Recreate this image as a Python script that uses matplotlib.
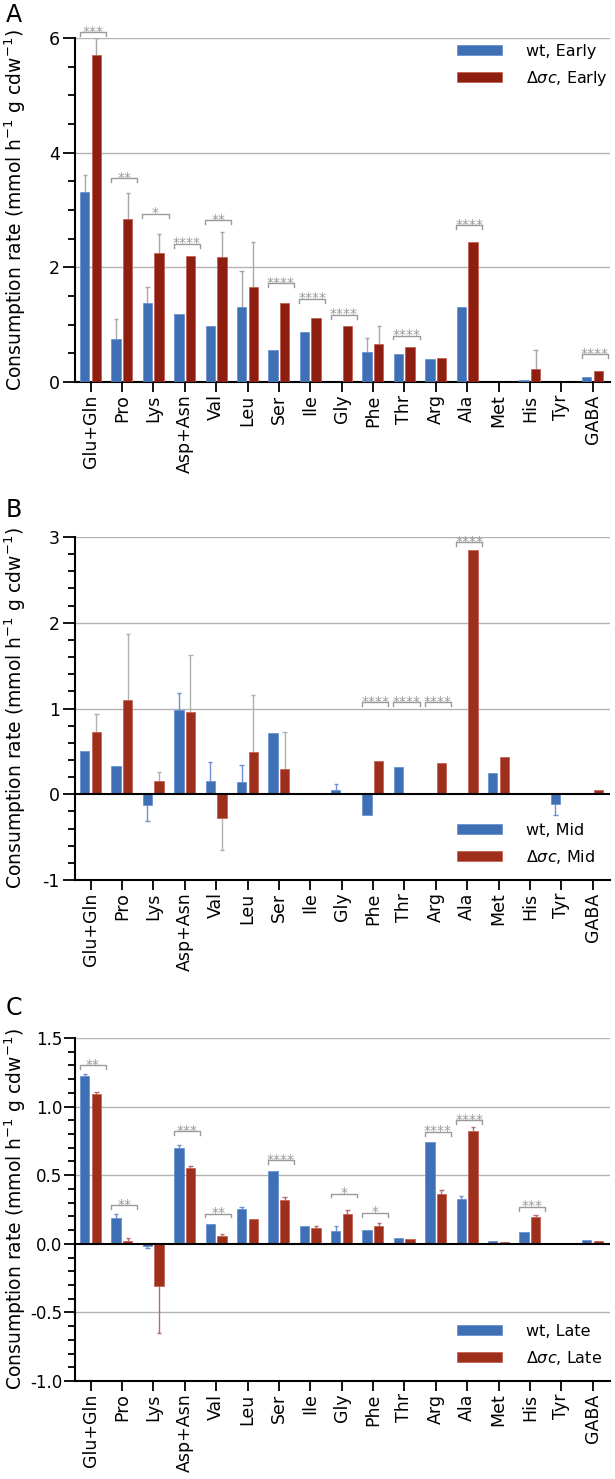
import matplotlib
matplotlib.use("Agg")
import matplotlib.pyplot as plt
import numpy as np
from matplotlib.ticker import MultipleLocator, FormatStrFormatter

plt.rcParams['font.family'] = ['DejaVu Sans']
plt.rcParams['axes.unicode_minus'] = False

# ---------------- data ----------------
categories = ["Glu+Gln", "Pro", "Lys", "Asp+Asn", "Val", "Leu", "Ser", "Ile", "Gly",
              "Phe", "Thr", "Arg", "Ala", "Met", "His", "Tyr", "GABA"]

early_wt = [3.32, 0.75, 1.37, 1.19, 0.98, 1.31, 0.55, 0.88, 0.0, 0.52, 0.48, 0.40, 1.30, 0.0, 0.03, 0.0, 0.09]
early_wt_err = [0.29, 0.35, 0.28, 0, 0, 0.62, 0, 0, 0, 0.25, 0, 0, 0, 0, 0, 0, 0]
early_dsc = [5.71, 2.84, 2.25, 2.19, 2.18, 1.66, 1.38, 1.11, 0.97, 0.66, 0.61, 0.42, 2.44, 0.0, 0.23, 0.0, 0.19]
early_dsc_err = [0.29, 0.45, 0.34, 0, 0.43, 0.78, 0, 0, 0, 0.31, 0, 0, 0, 0, 0.33, 0, 0]
early_sig_idx = [0, 1, 2, 3, 4, 6, 7, 8, 10, 12, 16]
early_sig_level = [6.1, 3.55, 2.93, 2.41, 2.82, 1.72, 1.45, 1.17, 0.81, 2.73, 0.48]
early_sig_text = ["***", "**", "*", "****", "**", "****", "****", "****", "****", "****", "****"]

mid_wt = [0.51, 0.33, -0.13, 0.98, 0.16, 0.14, 0.72, 0.0, 0.05, -0.245, 0.315, 0.0, 0.0, 0.25, 0.0, -0.11, 0.015]
mid_wt_err = [0, 0, 0.18, 0.20, 0.22, 0.20, 0, 0, 0.07, 0, 0, 0, 0, 0, 0, 0.135, 0]
mid_dsc = [0.73, 1.10, 0.16, 0.96, -0.28, 0.49, 0.30, 0.0, 0.0, 0.39, 0.0, 0.37, 2.85, 0.43, 0.0, 0.0, 0.05]
mid_dsc_err = [0.21, 0.77, 0.10, 0.66, 0.37, 0.67, 0.43, 0, 0, 0, 0, 0, 0, 0, 0, 0, 0]
mid_sig_idx = [9, 10, 11, 12]
mid_sig_level = [1.07, 1.07, 1.07, 2.94]
mid_sig_text = ["****", "****", "****", "****"]

late_wt = [1.226, 0.19, -0.017, 0.70, 0.143, 0.255, 0.53, 0.133, 0.092, 0.104, 0.044, 0.745, 0.323, 0.019, 0.083, 0.0, 0.029]
late_wt_err = [0.015, 0.03, 0.013, 0.02, 0, 0.015, 0, 0, 0.038, 0, 0, 0, 0.027, 0, 0, 0, 0]
late_dsc = [1.095, 0.024, -0.306, 0.553, 0.056, 0.184, 0.32, 0.114, 0.214, 0.133, 0.034, 0.362, 0.825, 0.015, 0.194, 0.0, 0.024]
late_dsc_err = [0.015, 0.016, 0.344, 0.012, 0.012, 0, 0.02, 0.016, 0.036, 0.015, 0, 0.028, 0.025, 0, 0.016, 0, 0]
late_sig_idx = [0, 1, 3, 4, 6, 8, 9, 11, 12, 14]
late_sig_level = [1.30, 0.28, 0.82, 0.22, 0.61, 0.366, 0.226, 0.816, 0.90, 0.27]
late_sig_text = ["**", "**", "***", "**", "****", "*", "*", "****", "****", "***"]

ylabel = "Consumption rate (mmol h$^{-1}$ g cdw$^{-1}$)"

# ---------------- layout ----------------
W, H = 615, 1479
fig = plt.figure(figsize=(W / 100, H / 100), dpi=100)

def rect(left, top, right, bottom):
    return [left / W, 1 - bottom / H, (right - left) / W, (bottom - top) / H]

BLUE = '#3f6fb5'
RED_A = '#8e1f10'
RED_BC = '#9e2f1d'
GRID = '#b4b4b4'
SIG = '#9a9a9a'

panels = [
    dict(letter="A", top=38, bottom=382, ylim=(0, 6), major=2, minor=0.5, fmt='%d',
         wt=early_wt, wte=early_wt_err, ds=early_dsc, dse=early_dsc_err, red=RED_A,
         sig=(early_sig_idx, early_sig_level, early_sig_text), tick_dy=0.065,
         labels=("wt, Early", r"$\Delta\sigma c$, Early"), leg_top=44, letter_y=15,
         ecol_wt='#a8a8a8', ecol_ds='#a8a8a8', zero=False, narrow=False),
    dict(letter="B", top=537, bottom=880, ylim=(-1, 3), major=1, minor=0.2, fmt='%d',
         wt=mid_wt, wte=mid_wt_err, ds=mid_dsc, dse=mid_dsc_err, red=RED_BC,
         sig=(mid_sig_idx, mid_sig_level, mid_sig_text), tick_dy=0.045,
         labels=("wt, Mid", r"$\Delta\sigma c$, Mid"), leg_top=823, letter_y=510,
         ecol_wt='#6f8fcf', ecol_ds='#b0b0b0', zero=True, narrow=False),
    dict(letter="C", top=1038, bottom=1381, ylim=(-1, 1.5), major=0.5, minor=0.1, fmt='%.1f',
         wt=late_wt, wte=late_wt_err, ds=late_dsc, dse=late_dsc_err, red=RED_BC,
         sig=(late_sig_idx, late_sig_level, late_sig_text), tick_dy=0.028,
         labels=("wt, Late", r"$\Delta\sigma c$, Late"), leg_top=1324, letter_y=1008,
         ecol_wt='#6f8fcf', ecol_ds='#b07070', zero=True, narrow=True),
]

x = np.arange(len(categories))
bw = 0.30
off_wt, off_ds = -0.19, 0.18

def draw_err(ax, xs, vals, errs, color):
    vals = np.asarray(vals, float)
    errs = np.asarray(errs, float)
    m = errs > 0
    tips = np.where(vals >= 0, vals + errs, vals - errs)
    ax.vlines(xs[m], vals[m], tips[m], color=color, lw=1.0, zorder=2)
    ax.hlines(tips[m], xs[m] - 0.07, xs[m] + 0.07, color=color, lw=1.0, zorder=2)

for p in panels:
    ax = fig.add_axes(rect(75, p['top'], 610, p['bottom']))
    ax.set_xlim(-0.5, len(categories) - 0.45)
    ax.set_ylim(*p['ylim'])
    ax.yaxis.set_major_locator(MultipleLocator(p['major']))
    ax.yaxis.set_minor_locator(MultipleLocator(p['minor']))
    ax.yaxis.set_major_formatter(FormatStrFormatter(p['fmt']))
    for g in np.arange(p['ylim'][0], p['ylim'][1] + 1e-9, p['major']):
        if abs(g) > 1e-9 and abs(g - p['ylim'][0]) > 1e-9:
            ax.axhline(g, color=GRID, lw=1.0, zorder=0)

    b1 = ax.bar(x + off_wt, p['wt'], bw, color=BLUE, edgecolor='#5f8ad0', lw=0.5, zorder=3,
                label=p['labels'][0])
    b2 = ax.bar(x + off_ds, p['ds'], bw, color=p['red'], edgecolor='#c25a4a', lw=0.5, zorder=3,
                label=p['labels'][1])
    draw_err(ax, x + off_wt, p['wt'], p['wte'], p['ecol_wt'])
    draw_err(ax, x + off_ds, p['ds'], p['dse'], p['ecol_ds'])

    if p['zero']:
        ax.axhline(0, color='black', lw=1.5, zorder=4)

    idxs, levels, texts = p['sig']
    for i, lv, t in zip(idxs, levels, texts):
        x0, x1 = i - 0.35, i + 0.48
        ax.plot([x0, x0, x1, x1], [lv - p['tick_dy'], lv, lv, lv - p['tick_dy']],
                color=SIG, lw=1.0, clip_on=False, zorder=5)
        ax.annotate(t, ((x0 + x1) / 2, lv), xytext=(0, -2.5), textcoords='offset points',
                    ha='center', va='baseline', fontsize=10, color=SIG, annotation_clip=False)

    for s in ['top', 'right']:
        ax.spines[s].set_visible(False)
    ax.spines['left'].set_linewidth(1.5)
    ax.spines['bottom'].set_linewidth(1.5)
    ax.set_xticks(x)
    ax.set_xticklabels(categories, rotation=90, fontsize=12.5)
    ax.tick_params(axis='x', length=7, width=1.3, pad=2)
    ax.tick_params(axis='y', which='major', length=9 if not p['narrow'] else 8,
                   width=1.3, labelsize=12.5, pad=2 if not p['narrow'] else 1)
    ax.tick_params(axis='y', which='minor', length=5, width=1.3)
    if p['narrow']:
        for lab in ax.get_yticklabels():
            lab.set_fontfamily(['Liberation Sans Narrow', 'DejaVu Sans'])
            lab.set_fontsize(12)
    ax.set_ylabel(ylabel, fontsize=13.5)
    ax.yaxis.set_label_coords(-0.088, 0.5)

    ax.legend(handles=[b1, b2], loc='upper left', frameon=False, fontsize=11.5,
              bbox_to_anchor=(457 / W, 1 - p['leg_top'] / H), bbox_transform=fig.transFigure,
              borderpad=0, borderaxespad=0, handlelength=2.8, handleheight=0.6,
              handletextpad=1.5, labelspacing=0.6)

    fig.text(6 / W, 1 - p['letter_y'] / H, p['letter'], fontsize=17, va='center', ha='left')

fig.savefig("out.png", dpi=100)
